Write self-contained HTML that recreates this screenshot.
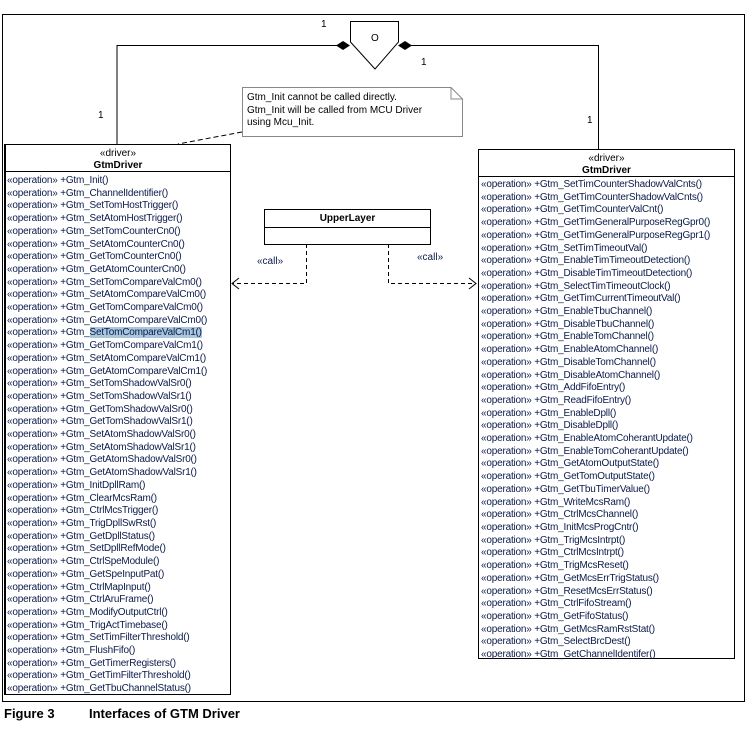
<!DOCTYPE html>
<html><head><style>
body{margin:0;width:748px;height:739px;background:#fff;position:relative;font-family:"Liberation Sans",Arial,sans-serif;overflow:hidden}
.a{position:absolute}
.box{position:absolute;border:1px solid #000;background:#fff;box-sizing:border-box}
.ops{position:absolute;font-size:10px;line-height:12.7px;color:#0a1a4a;white-space:nowrap;letter-spacing:-0.2px}
.hl{background:#a9c6dc}
.t{font-size:10px;color:#000;position:absolute;white-space:nowrap}
</style></head><body>
<svg class="a" style="left:0;top:0" width="748" height="739">
<rect x="2.5" y="14.5" width="742" height="687" fill="none" stroke="#000"/>
<polyline points="117,144 117,45.5 337,45.5" fill="none" stroke="#000"/>
<polyline points="411,45.5 598.5,45.5 598.5,149" fill="none" stroke="#000"/>
<polygon points="350.5,21.5 398.5,21.5 398.5,42 375,69 350.5,42" fill="#fff" stroke="#000"/>
<polygon points="336,45.5 343,41 350,45.5 343,50" fill="#000"/>
<polygon points="398,45.5 405,41 412,45.5 405,50" fill="#000"/>
<polygon points="242.5,87.5 451,87.5 462.5,99 462.5,136.5 242.5,136.5" fill="#fff" stroke="#888"/>
<polyline points="451,87.5 451,99 462.5,99" fill="none" stroke="#888"/>
<line x1="242" y1="132" x2="178" y2="144" stroke="#000" stroke-dasharray="5,3"/>
<polyline points="306.5,244 306.5,283.5 233,283.5" fill="none" stroke="#000" stroke-dasharray="4,3"/>
<polyline points="239,278 232,283.5 239,289" fill="none" stroke="#000"/>
<polyline points="388.5,244 388.5,283.5 476,283.5" fill="none" stroke="#000" stroke-dasharray="4,3"/>
<polyline points="469,278 476,283.5 469,289" fill="none" stroke="#000"/>
</svg>
<div class="t" style="left:321px;top:19px">1</div>
<div class="t" style="left:371px;top:33px">O</div>
<div class="t" style="left:421px;top:57px">1</div>
<div class="t" style="left:98px;top:110px">1</div>
<div class="t" style="left:587px;top:115px">1</div>
<div class="t" style="left:247px;top:92px;line-height:12.5px">Gtm_Init cannot be called directly.<br>Gtm_Init will be called from MCU Driver<br>using Mcu_Init.</div>
<div class="box" style="left:264px;top:209px;width:167px;height:36px"><div style="border-bottom:1px solid #000;height:17px;text-align:center;font-size:10px;font-weight:bold;line-height:17px">UpperLayer</div></div>
<div class="t" style="left:257px;top:256px;color:#0a1a4a">«call»</div>
<div class="t" style="left:417px;top:252px;color:#0a1a4a">«call»</div>
<div class="box" style="left:4px;top:144px;width:227px;height:551px;border-left:2px solid #000">
<div style="border-bottom:1px solid #000;height:27px;text-align:center;font-size:10px;line-height:11.5px;padding-top:3px;box-sizing:border-box">«driver»<br><b>GtmDriver</b></div>
</div>
<div class="ops" style="left:7px;top:175px">«operation» +Gtm_Init()<br>«operation» +Gtm_ChannelIdentifier()<br>«operation» +Gtm_SetTomHostTrigger()<br>«operation» +Gtm_SetAtomHostTrigger()<br>«operation» +Gtm_SetTomCounterCn0()<br>«operation» +Gtm_SetAtomCounterCn0()<br>«operation» +Gtm_GetTomCounterCn0()<br>«operation» +Gtm_GetAtomCounterCn0()<br>«operation» +Gtm_SetTomCompareValCm0()<br>«operation» +Gtm_SetAtomCompareValCm0()<br>«operation» +Gtm_GetTomCompareValCm0()<br>«operation» +Gtm_GetAtomCompareValCm0()<br>«operation» +Gtm_<span class="hl">SetTomCompareValCm1()</span><br>«operation» +Gtm_GetTomCompareValCm1()<br>«operation» +Gtm_SetAtomCompareValCm1()<br>«operation» +Gtm_GetAtomCompareValCm1()<br>«operation» +Gtm_SetTomShadowValSr0()<br>«operation» +Gtm_SetTomShadowValSr1()<br>«operation» +Gtm_GetTomShadowValSr0()<br>«operation» +Gtm_GetTomShadowValSr1()<br>«operation» +Gtm_SetAtomShadowValSr0()<br>«operation» +Gtm_SetAtomShadowValSr1()<br>«operation» +Gtm_GetAtomShadowValSr0()<br>«operation» +Gtm_GetAtomShadowValSr1()<br>«operation» +Gtm_InitDpllRam()<br>«operation» +Gtm_ClearMcsRam()<br>«operation» +Gtm_CtrlMcsTrigger()<br>«operation» +Gtm_TrigDpllSwRst()<br>«operation» +Gtm_GetDpllStatus()<br>«operation» +Gtm_SetDpllRefMode()<br>«operation» +Gtm_CtrlSpeModule()<br>«operation» +Gtm_GetSpeInputPat()<br>«operation» +Gtm_CtrlMapInput()<br>«operation» +Gtm_CtrlAruFrame()<br>«operation» +Gtm_ModifyOutputCtrl()<br>«operation» +Gtm_TrigActTimebase()<br>«operation» +Gtm_SetTimFilterThreshold()<br>«operation» +Gtm_FlushFifo()<br>«operation» +Gtm_GetTimerRegisters()<br>«operation» +Gtm_GetTimFilterThreshold()<br>«operation» +Gtm_GetTbuChannelStatus()</div>
<div class="box" style="left:478px;top:149px;width:257px;height:510px">
<div style="border-bottom:1px solid #000;height:27px;text-align:center;font-size:10px;line-height:11.5px;padding-top:3px;box-sizing:border-box">«driver»<br><b>GtmDriver</b></div>
</div>
<div class="ops" style="left:481px;top:179px">«operation» +Gtm_SetTimCounterShadowValCnts()<br>«operation» +Gtm_GetTimCounterShadowValCnts()<br>«operation» +Gtm_GetTimCounterValCnt()<br>«operation» +Gtm_GetTimGeneralPurposeRegGpr0()<br>«operation» +Gtm_GetTimGeneralPurposeRegGpr1()<br>«operation» +Gtm_SetTimTimeoutVal()<br>«operation» +Gtm_EnableTimTimeoutDetection()<br>«operation» +Gtm_DisableTimTimeoutDetection()<br>«operation» +Gtm_SelectTimTimeoutClock()<br>«operation» +Gtm_GetTimCurrentTimeoutVal()<br>«operation» +Gtm_EnableTbuChannel()<br>«operation» +Gtm_DisableTbuChannel()<br>«operation» +Gtm_EnableTomChannel()<br>«operation» +Gtm_EnableAtomChannel()<br>«operation» +Gtm_DisableTomChannel()<br>«operation» +Gtm_DisableAtomChannel()<br>«operation» +Gtm_AddFifoEntry()<br>«operation» +Gtm_ReadFifoEntry()<br>«operation» +Gtm_EnableDpll()<br>«operation» +Gtm_DisableDpll()<br>«operation» +Gtm_EnableAtomCoherantUpdate()<br>«operation» +Gtm_EnableTomCoherantUpdate()<br>«operation» +Gtm_GetAtomOutputState()<br>«operation» +Gtm_GetTomOutputState()<br>«operation» +Gtm_GetTbuTimerValue()<br>«operation» +Gtm_WriteMcsRam()<br>«operation» +Gtm_CtrlMcsChannel()<br>«operation» +Gtm_InitMcsProgCntr()<br>«operation» +Gtm_TrigMcsIntrpt()<br>«operation» +Gtm_CtrlMcsIntrpt()<br>«operation» +Gtm_TrigMcsReset()<br>«operation» +Gtm_GetMcsErrTrigStatus()<br>«operation» +Gtm_ResetMcsErrStatus()<br>«operation» +Gtm_CtrlFifoStream()<br>«operation» +Gtm_GetFifoStatus()<br>«operation» +Gtm_GetMcsRamRstStat()<br>«operation» +Gtm_SelectBrcDest()<br>«operation» +Gtm_GetChannelIdentifer()</div>
<div class="a" style="left:4px;top:706px;font-size:13px;font-weight:bold">Figure 3</div>
<div class="a" style="left:89px;top:706px;font-size:13px;font-weight:bold">Interfaces of GTM Driver</div>
</body></html>
